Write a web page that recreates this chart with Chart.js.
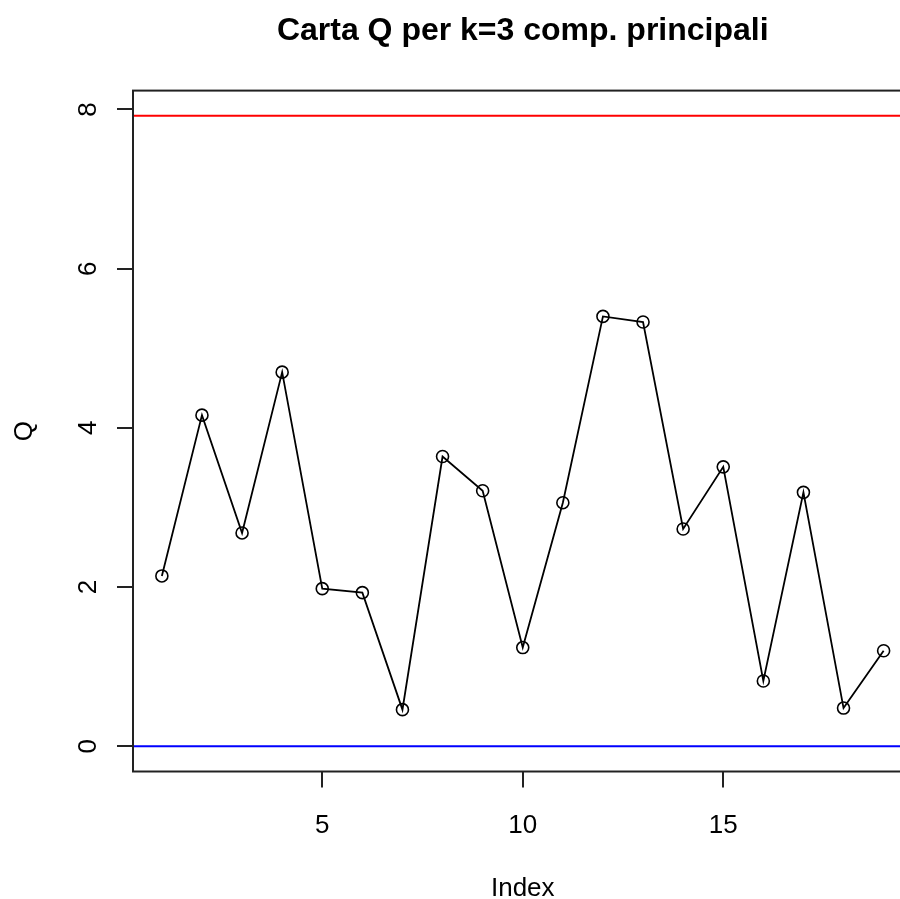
<!DOCTYPE html>
<html>
<head>
<meta charset="utf-8">
<script src="https://cdn.jsdelivr.net/npm/chart.js@4/dist/chart.umd.min.js"></script>
<style>
  html, body { margin: 0; padding: 0; background: #fff; overflow: hidden; }
  #wrap { width: 940px; height: 920px; }
</style>
</head>
<body>
<div id="wrap"><canvas id="qChart" width="940" height="920"></canvas></div>
<script>
    const indexValues = [1, 2, 3, 4, 5, 6, 7, 8, 9, 10, 11, 12, 13, 14, 15, 16, 17, 18, 19];
    const qValues = [2.14, 4.16, 2.68, 4.70, 1.98, 1.93, 0.46, 3.64, 3.21, 1.24, 3.06, 5.40, 5.33, 2.73, 3.51, 0.82, 3.19, 0.48, 1.20];
    const upperLimit = 7.92;
    const lowerLimit = 0;
    const xTicks = [5, 10, 15];
    const yTicks = [0, 2, 4, 6, 8];

    // R style axis range: data range widened by 4%
    const xMin = 1 - 0.04 * 18, xMax = 19 + 0.04 * 18;
    const yMin = lowerLimit - 0.04 * upperLimit, yMax = upperLimit + 0.04 * upperLimit;

    const FONT = "'Liberation Sans', Arial, sans-serif";

    const frameAndLimits = {
        id: 'frameAndLimits',
        afterDatasetsDraw(chart) {
            const { ctx, chartArea: a, scales: { y } } = chart;
            ctx.save();
            ctx.beginPath();
            ctx.rect(a.left, a.top, a.right - a.left, a.bottom - a.top);
            ctx.clip();
            [[upperLimit, '#ff0000'], [lowerLimit, '#0000ff']].forEach(([v, col]) => {
                const py = y.getPixelForValue(v);
                ctx.strokeStyle = col;
                ctx.lineWidth = 2;
                ctx.beginPath();
                ctx.moveTo(a.left, py);
                ctx.lineTo(a.right, py);
                ctx.stroke();
            });
            ctx.restore();
            ctx.save();
            ctx.strokeStyle = '#222';
            ctx.lineWidth = 2;
            ctx.strokeRect(a.left, a.top, a.right - a.left, a.bottom - a.top);
            ctx.restore();
        }
    };

    new Chart(document.getElementById('qChart'), {
        type: 'line',
        data: {
            datasets: [{
                data: indexValues.map((x, i) => ({ x: x, y: qValues[i] })),
                borderColor: '#000',
                borderWidth: 1.8,
                pointStyle: 'circle',
                pointRadius: 6,
                pointBorderWidth: 1.6,
                pointBorderColor: '#000',
                pointBackgroundColor: 'rgba(0,0,0,0)',
                tension: 0,
                fill: false
            }]
        },
        options: {
            responsive: false,
            devicePixelRatio: 1,
            animation: false,
            layout: { padding: { left: 0, right: 27.5, top: 0, bottom: 0 } },
            plugins: {
                legend: { display: false },
                tooltip: { enabled: false },
                title: {
                    display: true,
                    text: 'Carta Q per k=3 comp. principali',
                    fullSize: false,
                    color: '#000',
                    font: { family: FONT, size: 32, weight: 'bold', lineHeight: 1.2 },
                    padding: { top: 12, bottom: 40.2 }
                }
            },
            scales: {
                x: {
                    type: 'linear',
                    min: xMin, max: xMax,
                    afterBuildTicks: s => { s.ticks = xTicks.map(v => ({ value: v })); },
                    afterFit: s => { s.height = 148.5; },
                    border: { display: false },
                    grid: { drawOnChartArea: false, drawTicks: true, tickLength: 16, color: '#222', lineWidth: 2 },
                    ticks: { color: '#000', padding: 23, maxRotation: 0, font: { family: FONT, size: 26 } },
                    title: { display: true, text: 'Index', color: '#000', padding: { top: 0, bottom: 16 }, font: { family: FONT, size: 26, lineHeight: 1.2 } }
                },
                y: {
                    type: 'linear',
                    min: yMin, max: yMax,
                    afterBuildTicks: s => { s.ticks = yTicks.map(v => ({ value: v })); },
                    afterFit: s => { s.width = 133; },
                    border: { display: false },
                    grid: { drawOnChartArea: false, drawTicks: true, tickLength: 16, color: '#222', lineWidth: 2 },
                    ticks: { color: '#000', padding: 21, minRotation: 90, maxRotation: 90, crossAlign: 'center', font: { family: FONT, size: 26 } },
                    title: { display: true, text: 'Q', color: '#000', padding: { top: 9, bottom: 0 }, font: { family: FONT, size: 26, lineHeight: 1.2 } }
                }
            }
        },
        plugins: [frameAndLimits]
    });
</script>
</body>
</html>
